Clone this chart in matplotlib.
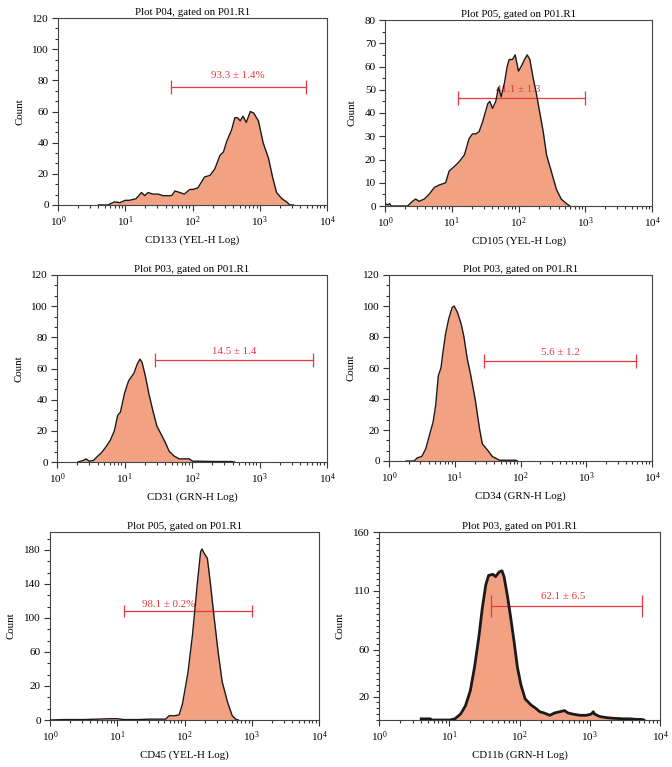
import numpy as np
import matplotlib.pyplot as plt
from matplotlib.ticker import AutoMinorLocator, MultipleLocator

plt.rcParams['font.family'] = ['Liberation Serif', 'DejaVu Serif']
plt.rcParams['mathtext.fontset'] = 'stix'

# histogram data: log10 of intensity and counts
cd133_log = [0.60, 0.74, 0.84, 0.92, 1.00, 1.06, 1.16, 1.24, 1.29, 1.34, 1.41, 1.49, 1.56, 1.69,
             1.74, 1.81, 1.88, 1.96, 2.01, 2.08, 2.18, 2.26, 2.33, 2.41, 2.46, 2.51, 2.58, 2.63,
             2.67, 2.71, 2.75, 2.80, 2.86, 2.91, 2.98, 3.05, 3.13, 3.19, 3.25, 3.33, 3.40, 3.45, 3.50]
cd133_cnt = [0, 0, 2, 1.5, 3, 3, 4, 8, 6, 8, 7, 7, 6, 6,
             9, 8, 7, 10, 10, 11, 18, 19, 23, 32, 34, 41, 48, 56,
             56, 54, 57, 53, 60, 59, 54, 40, 30, 18, 8, 4, 2, 0, 0]

cd105_log = [0.0, 0.04, 0.07, 0.09, 0.34, 0.41, 0.46, 0.51, 0.59, 0.66, 0.74, 0.81, 0.91, 0.96,
             1.04, 1.11, 1.19, 1.26, 1.31, 1.36, 1.41, 1.46, 1.54, 1.57, 1.61, 1.66, 1.70, 1.74,
             1.79, 1.83, 1.86, 1.91, 1.95, 2.00, 2.04, 2.09, 2.13, 2.17, 2.22, 2.27, 2.32, 2.37,
             2.42, 2.49, 2.57, 2.64, 2.72, 2.77]
cd105_cnt = [1, 0.5, 1, 0, 0, 2, 3, 2, 3, 5, 8, 9, 10, 15,
             17, 19, 22, 29, 31, 31, 32, 36, 44, 45, 42, 45, 51, 47,
             53, 60, 63, 63, 65, 58, 60, 63, 65, 63, 55, 48, 40, 32,
             22, 15, 7, 3, 1, 0]

cd31_log = [0.31, 0.39, 0.43, 0.48, 0.54, 0.61, 0.66, 0.73, 0.79, 0.85, 0.90, 0.94, 1.00, 1.06,
            1.14, 1.19, 1.23, 1.26, 1.31, 1.36, 1.42, 1.48, 1.54, 1.61, 1.66, 1.73, 1.81, 1.88,
            1.96, 2.01, 2.13, 2.33, 2.58, 2.63]
cd31_cnt = [0, 1, 2, 0.5, 1, 4, 6, 10, 14, 20, 30, 32, 44, 52,
            57, 63, 66, 64, 55, 44, 33, 23, 18, 12, 7, 4, 2, 2,
            2, 0.5, 0.5, 0.3, 0.3, 0]

cd34_log = [0.26, 0.38, 0.43, 0.50, 0.56, 0.63, 0.67, 0.71, 0.75, 0.79, 0.82, 0.86, 0.91, 0.96,
            0.99, 1.04, 1.10, 1.14, 1.19, 1.24, 1.31, 1.38, 1.42, 1.50, 1.57, 1.68, 1.78, 1.93, 1.95]
cd34_cnt = [0, 0, 2, 3, 8, 19, 25, 36, 55, 60, 70, 82, 92, 99,
            100, 96, 88, 80, 66, 56, 40, 20, 11, 7, 3, 0.5, 0.5, 0.5, 0]

cd45_log = [0.0, 0.2, 0.5, 0.9, 1.0, 1.1, 1.3, 1.5, 1.64, 1.72, 1.77, 1.85, 1.92, 1.97, 2.05,
            2.12, 2.19, 2.24, 2.26, 2.30, 2.34, 2.38, 2.44, 2.50, 2.56, 2.64, 2.71, 2.76, 2.80]
cd45_cnt = [0, 0.5, 0.5, 1.5, 1.5, 0.5, 0.5, 1, 1, 1, 5, 5, 6, 19, 55,
            101, 160, 198, 201, 195, 190, 164, 121, 80, 45, 21, 5, 1, 0]

cd11b_log = [0.60, 0.73, 0.75, 1.01, 1.08, 1.16, 1.23, 1.30, 1.36, 1.42, 1.47, 1.52, 1.56, 1.62,
             1.66, 1.71, 1.75, 1.78, 1.83, 1.88, 1.92, 1.97, 2.02, 2.08, 2.16, 2.23, 2.29, 2.35,
             2.43, 2.50, 2.57, 2.64, 2.69, 2.76, 2.86, 2.95, 3.02, 3.05, 3.07, 3.14, 3.24, 3.33,
             3.48, 3.57, 3.67, 3.74, 3.77]
cd11b_cnt = [1, 1, 0, 0, 1, 5, 12, 25, 45, 70, 95, 115, 123, 124,
             122, 126, 127, 122, 105, 85, 68, 45, 30, 18, 13, 10, 7, 6,
             4, 6, 7, 8, 6, 5, 4, 4, 5, 7, 5, 3, 2, 1.5,
             1, 1, 0.5, 0.5, 0]

titles = ['Plot P04, gated on P01.R1', 'Plot P05, gated on P01.R1',
          'Plot P03, gated on P01.R1', 'Plot P03, gated on P01.R1',
          'Plot P05, gated on P01.R1', 'Plot P03, gated on P01.R1']
xlabels = ['CD133 (YEL-H Log)', 'CD105 (YEL-H Log)', 'CD31 (GRN-H Log)',
           'CD34 (GRN-H Log)', 'CD45 (YEL-H Log)', 'CD11b (GRN-H Log)']
gate_labels = ['93.3 ± 1.4%', '41.1 ± 1.3', '14.5 ± 1.4', '5.6 ± 1.2', '98.1 ± 0.2%', '62.1 ± 6.5']
gate_lo = [1.68, 1.10, 1.45, 1.44, 1.10, 1.60]
gate_hi = [3.69, 3.00, 3.79, 3.76, 3.00, 3.75]
gate_y = [76, 46.3, 65.5, 64.6, 128, 97]
label_x = [2.68, 2.00, 2.62, 2.60, 1.76, 2.62]
label_y = [83, 50, 71, 70, 136, 105]

data = [(cd133_log, cd133_cnt), (cd105_log, cd105_cnt), (cd31_log, cd31_cnt),
        (cd34_log, cd34_cnt), (cd45_log, cd45_cnt), (cd11b_log, cd11b_cnt)]

W, H = 672, 767
boxes = [(58, 327, 18, 205), (385, 652, 20, 206),
         (57, 327, 275, 462), (389, 652, 275, 461),
         (50, 319, 532, 720), (379, 660, 532, 720)]
ylims = [120, 80, 120, 120, 221, 160]
cap = [9.5, 9.5, 9.5, 9.5, 9, 16.5]
lw_edge = [1.0, 1.0, 1.0, 1.0, 1.0, 2.0]

fill_col = '#F2A283'
red = '#E5393F'

fig = plt.figure(figsize=(W / 100, H / 100), dpi=100)

for i in range(6):
    l, r, t, b = boxes[i]
    ax = fig.add_axes([l / W, (H - b) / H, (r - l) / W, (b - t) / H])
    xs = 10 ** np.array(data[i][0])
    ys = np.array(data[i][1])
    ax.fill_between(xs, ys, color=fill_col, lw=0, zorder=1)
    ax.plot(xs, ys, color='#1a1a1a', lw=lw_edge[i], zorder=3)

    # gate
    ax.plot([10 ** gate_lo[i], 10 ** gate_hi[i]], [gate_y[i], gate_y[i]], color=red, lw=0.9,
            marker='|', markersize=cap[i], markeredgewidth=0.9, zorder=2)
    ax.text(10 ** label_x[i], label_y[i], gate_labels[i], color=red, fontsize=7.8,
            ha='center', va='center', zorder=2)

    ax.set_xscale('log')
    ax.set_xlim(1, 1e4)
    ax.set_ylim(0, ylims[i])
    ax.set_title(titles[i], fontsize=7.8, pad=2)
    ax.set_xlabel(xlabels[i], fontsize=7.8, labelpad=5)
    ax.set_ylabel('Count', fontsize=7.8, labelpad=6)

    if i in (0, 2, 3):
        ax.yaxis.set_major_locator(MultipleLocator(20))
        ax.yaxis.set_minor_locator(AutoMinorLocator(3))
    elif i == 1:
        ax.yaxis.set_major_locator(MultipleLocator(10))
        ax.yaxis.set_minor_locator(AutoMinorLocator(2))
    elif i == 4:
        ax.set_yticks([0, 40, 80, 120, 160, 200])
        ax.set_yticklabels(['0', '20', '60', '100', '140', '180'])
        ax.yaxis.set_minor_locator(AutoMinorLocator(3))
    else:
        ax.set_yticks([20, 60, 110, 160])
        ax.yaxis.set_minor_locator(MultipleLocator(5))

    ax.tick_params(which='both', direction='out', labelsize=8, width=0.8, color='#333333',
                   top=False, right=False)
    ax.tick_params(which='major', length=4, pad=2.5)
    ax.tick_params(which='minor', length=2.5)
    for s in ax.spines.values():
        s.set_color('#444444')
        s.set_linewidth(0.8)

fig.savefig('out.png', dpi=100)
